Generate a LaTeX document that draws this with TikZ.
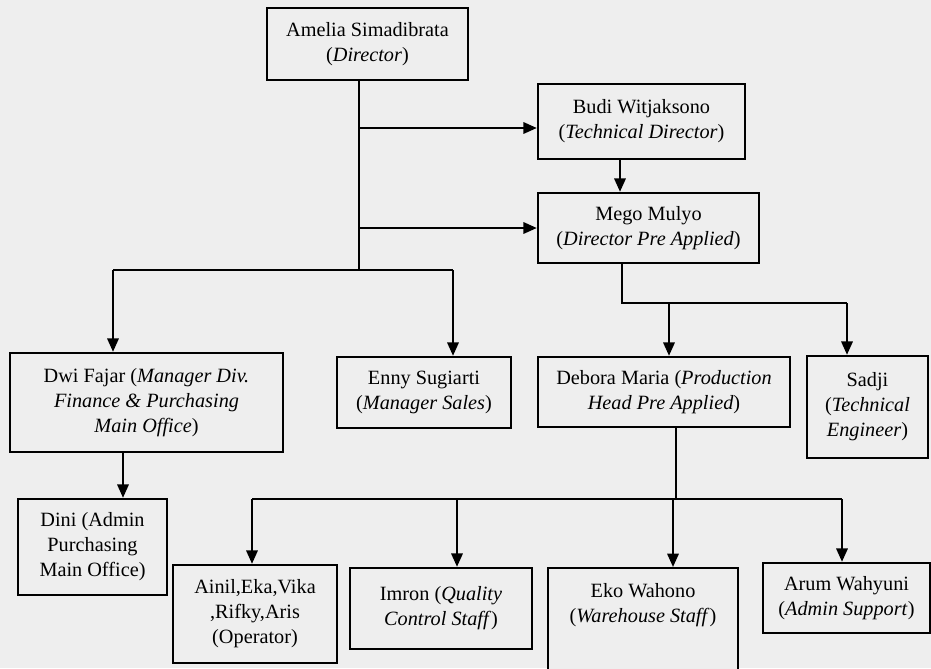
\documentclass[tikz,border=0pt]{standalone}
\usepackage{fontspec}
\setmainfont{Liberation Serif}
\usetikzlibrary{arrows.meta}
\definecolor{paper}{RGB}{238,238,238}
\begin{document}
\begin{tikzpicture}[x=0.75pt,y=-0.75pt,
  box/.style={draw=black, line width=1.8pt, fill=paper, inner sep=0pt,
    align=center, font=\fontsize{15.2}{18.75}\selectfont},
  lbl/.style={inner sep=0pt, align=center, font=\fontsize{15.2}{18.75}\selectfont},
  sz/.style 2 args={minimum width={#1*0.75pt}, minimum height={#2*0.75pt}},
  con/.style={draw=black, line width=1.6pt},
  arr/.style={con, -{Triangle[length=10pt,width=8.5pt]}}]
\useasboundingbox (0,0) rectangle (931,668);
\fill[paper] (0,0) rectangle (931,668);
\clip (0,0) rectangle (931,668);
% nodes
\node[box, sz={201}{72}] (amelia) at (367.5,44) {Amelia Simadibrata\\(\textit{Director})};
\node[box, sz={207}{75}] (budi) at (641.5,121.5) {Budi Witjaksono\\(\textit{Technical Director})};
\node[box, sz={221}{70}] (mego) at (648.5,228) {Mego Mulyo\\(\textit{Director Pre Applied})};
\node[box, sz={273}{99}] (dwi) at (146.5,402.5) {Dwi Fajar (\textit{Manager Div.}\\\textit{Finance \& Purchasing}\\\textit{Main Office})};
\node[box, sz={174}{71}] (enny) at (424,392.5) {Enny Sugiarti\\(\textit{Manager Sales})};
\node[box, sz={252}{70}] (debora) at (664,392) {Debora Maria (\textit{Production}\\\textit{Head Pre Applied})};
\node[box, sz={121}{102}] (sadji) at (867.5,407) {Sadji\\(\textit{Technical}\\\textit{Engineer})};
\node[box, sz={149}{96}] (dini) at (92.5,547) {Dini (Admin\\Purchasing\\Main Office)};
\node[box, sz={164}{98}] (ainil) at (255,614) {Ainil,Eka,Vika\\,Rifky,Aris\\(Operator)};
\node[box, sz={182}{81}] (imron) at (441,608.5) {Imron (\textit{Quality}\\\textit{Control Staff})};
\node[box, sz={190}{140}, anchor=north] (eko) at (643,567) {};
\node[lbl] (ekot) at (643,605) {Eko Wahono\\(\textit{Warehouse Staff})};
\node[box, sz={167}{70}] (arum) at (846.5,598) {Arum Wahyuni\\(\textit{Admin Support})};
% junction coordinates
\coordinate (j1) at (359,270);
\coordinate (j1l) at (113,270);
\coordinate (j1r) at (453,270);
\coordinate (jb) at (359,128);
\coordinate (jm) at (359,228);
\coordinate (j2) at (622,303);
\coordinate (j2r) at (847,303);
\coordinate (j2d) at (669,303);
\coordinate (j3) at (676,499);
\coordinate (j3l) at (252,499);
\coordinate (j3r) at (842,499);
\coordinate (j3a) at (457,499);
\coordinate (j3b) at (673,499);
% connectors
\draw[con] (amelia.south -| j1) -- (j1);
\draw[arr] (jb) -- (budi.west |- jb);
\draw[arr] (jm) -- (mego.west |- jm);
\draw[arr] (budi.south -| 620,0) -- (mego.north -| 620,0);
\draw[con] (j1l) -- (j1r);
\draw[arr] (j1l) -- (dwi.north -| j1l);
\draw[arr] (j1r) -- (enny.north -| j1r);
\draw[con] (mego.south -| j2) -- (j2) -- (j2r);
\draw[arr] (j2d) -- (debora.north -| j2d);
\draw[arr] (j2r) -- (sadji.north -| j2r);
\draw[arr] (dwi.south -| 123,0) -- (dini.north -| 123,0);
\draw[con] (debora.south -| j3) -- (j3);
\draw[con] (j3l) -- (j3r);
\draw[arr] (j3l) -- (ainil.north -| j3l);
\draw[arr] (j3a) -- (imron.north -| j3a);
\draw[arr] (j3b) -- (eko.north -| j3b);
\draw[arr] (j3r) -- (arum.north -| j3r);
\end{tikzpicture}
\end{document}
